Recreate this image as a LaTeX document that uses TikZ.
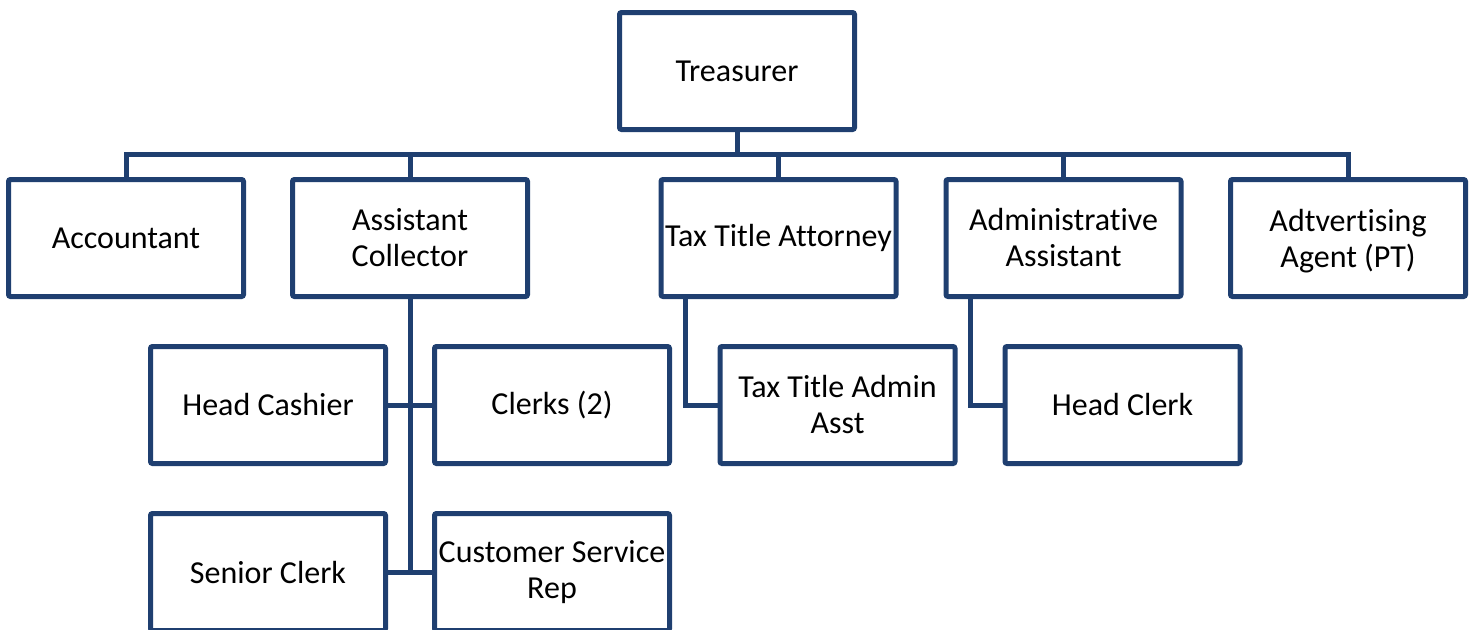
\documentclass[tikz,border=0pt]{standalone}
\usepackage{fontspec}
\setmainfont{Carlito}[Ligatures={NoCommon}]
\definecolor{linec}{RGB}{31,63,112}
\begin{document}
\begin{tikzpicture}[x=1pt,y=-1pt,
  box/.style={draw=linec,line width=5pt,rounded corners=2pt,fill=white,
    minimum width=235pt,minimum height=117pt,inner sep=0pt,outer sep=0pt,
    align=center,font=\fontsize{32}{36}\selectfont},
  conn/.style={draw=linec,line width=5pt}]
\useasboundingbox (0,0) rectangle (1471,629);
\clip (0,0) rectangle (1471,629);
\node[box] (treas) at (737,71) {Treasurer};
\node[box] (acc) at (126,238) {Accountant};
\node[box] (ac) at (410,238) {Assistant\\Collector};
\node[box] (tta) at (778.5,238) {Tax Title Attorney};
\node[box] (aa) at (1063.5,238) {Administrative\\Assistant};
\node[box] (adv) at (1348,238) {Adtvertising\\\raisebox{0pt}[\height][0pt]{Agent (PT)}};
\node[box] (hc) at (268,405) {Head Cashier};
\node[box] (cl) at (552,405) {Clerks (2)};
\node[box] (ttaa) at (837.5,405) {Tax Title Admin\\Asst};
\node[box] (hcl) at (1122.5,405) {Head Clerk};
\node[box] (sc) at (268,572) {Senior Clerk};
\node[box] (csr) at (552,572) {Customer Service\\Rep};
\coordinate (bus) at (737,154.5);
\draw[conn] (treas.south) -- (bus);
\draw[conn] (acc.north) |- (bus) -| (adv.north);
\draw[conn] (ac.north) -- (ac.north |- bus);
\draw[conn] (tta.north) -- (tta.north |- bus);
\draw[conn] (aa.north) -- (aa.north |- bus);
\draw[conn] (ac.south) -- (ac.south |- sc.east);
\draw[conn] (hc.east) -- (cl.west);
\draw[conn] (sc.east) -- (csr.west);
\draw[conn] ([xshift=24pt]tta.south west) |- (ttaa.west);
\draw[conn] ([xshift=24pt]aa.south west) |- (hcl.west);
\end{tikzpicture}
\end{document}
